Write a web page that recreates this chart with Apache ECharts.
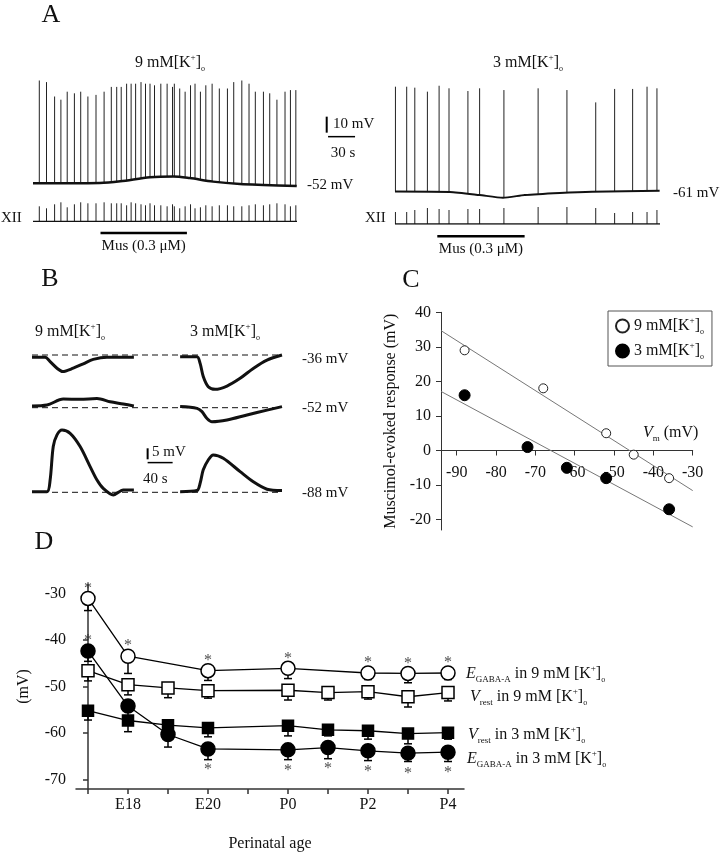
<!DOCTYPE html>
<html>
<head>
<meta charset="utf-8">
<script src="https://cdn.jsdelivr.net/npm/echarts@6/dist/echarts.min.js"></script>
<style>
  html, body { margin: 0; background: #fff; }
  #chart { width: 724px; height: 853px; }
</style>
</head>
<body>
<div id="chart"></div>
<script>
// ---- A: whole-cell recordings, 9 mM K+ (left) and 3 mM K+ (right)
// spike times (s), spike peak (mV), trace level under the spike (mV)
const a9SpikeT = [7, 15, 24, 31, 38, 46, 53, 61, 70, 79, 87, 93, 98, 104, 109, 114, 120, 125, 130, 135, 142,
  149, 155, 157, 163, 169, 175, 180, 186, 192, 199, 207, 216, 223, 232, 240, 247, 256, 263, 271, 280, 286, 292];
const a9SpikePeak = [13, 12, 3, 1, 6, 5, 6, 3, 4, 6, 9, 9, 9, 11, 11, 11, 12, 11, 11, 10, 11,
  11, 9, 11, 8, 6, 10, 11, 6, 10, 11, 8, 8, 12, 13, 11, 6, 6, 5, 1, 6, 7, 7];
const a9SpikeBase = [-51.2, -51.2, -51.1, -51.1, -51.1, -51.1, -51.1, -51, -51, -50.8, -50.4, -50.2, -50, -49.5, -49.1, -48.8, -48.3, -47.9, -47.5, -47.4, -47.3,
  -47.1, -47, -47.1, -47.4, -47.7, -48, -48.5, -49, -49.5, -50.1, -50.6, -51, -51.3, -51.7, -51.9, -52.1, -52.3, -52.4, -52.5, -52.7, -52.8, -53];
const a9BaseT = [0, 74, 97, 130, 156, 174, 200, 230, 256, 293];
const a9BaseV = [-51.2, -51, -50, -47.5, -47, -48, -50.2, -51.7, -52.3, -53];
const a9Xii = [15, 13, 17, 19, 14, 17, 19, 18, 18, 19, 18, 18, 18, 16, 19, 18, 17, 16, 18, 16, 16,
  15, 17, 15, 13, 15, 17, 13, 14, 16, 15, 16, 16, 15, 15, 16, 17, 16, 17, 18, 17, 15, 16];
const a9Mus = [75, 171];

const a3SpikeT = [0.5, 13, 22, 36, 49, 60, 81, 94, 121, 159, 191, 223, 244, 264, 280, 291];
const a3SpikePeak = [4.5, 4.5, 3.9, 1.4, 5.1, 3.5, 1.8, 3.5, 2.4, 3.5, 2.4, -5.3, 3.1, 3.1, 4.5, 3.5];
const a3SpikeBase = [-61, -61.1, -61.1, -61.2, -61.2, -61.3, -62.5, -63.2, -64.9, -62.7, -61.7, -61.1, -60.9, -60.8, -60.6, -60.5];
const a3BaseT = [0, 61, 94, 120, 144, 183, 219, 294];
const a3BaseV = [-61, -61.3, -63.2, -64.9, -63.2, -61.9, -61.1, -60.5];
const a3Xii = [12, 12, 14, 16, 15, 14, 15, 15, 16, 17, 17, 16, 11, 12, 12, 14];
const a3Mus = [47, 144];

// ---- B: muscimol responses at three holding potentials (time s, mV)
const bHold = [-36, -52, -88];
const b9T = [
  [0, 21, 29, 40, 49, 66, 82, 98, 120, 141, 163],
  [0, 24, 50, 77, 104, 125, 146, 163],
  [0, 24, 29, 34, 40, 48, 61, 77, 93, 104, 114, 130, 146, 163]
];
const b9V = [
  [-37, -37, -39, -42, -43.5, -42, -40, -38, -37, -37, -37],
  [-51.2, -50.8, -48.1, -48.2, -47.8, -49.3, -50.3, -51.2],
  [-87.7, -87.7, -82.4, -67.2, -61.9, -59.7, -61.2, -67.2, -76.3, -82.4, -86.2, -89.2, -86.9, -86.9]
];
const b3T = [
  [237, 264, 269, 274, 282, 293, 312, 333, 354, 376, 400],
  [237, 264, 272, 280, 288, 312, 344, 376, 400],
  [237, 264, 269, 274, 282, 290, 306, 333, 354, 376, 400]
];
const b3V = [
  [-36.8, -36.8, -39.8, -45.8, -50.4, -51.6, -50.1, -46.6, -42.1, -38.3, -36],
  [-51.5, -52.3, -53.8, -56.9, -58.4, -57.6, -55.3, -53.1, -51.5],
  [-87.7, -87.2, -83.9, -77.8, -73.3, -71, -72.5, -78.6, -83.2, -86.6, -87.2]
];

// ---- C: muscimol-evoked response vs membrane potential
const c9Vm = [-88, -68, -52, -45, -36];
const c9Resp = [29, 18, 5, -1.2, -8];
const c3Vm = [-88, -72, -62, -52, -36];
const c3Resp = [16, 1, -5, -8, -17];
const cFitVm = [-94, -30];
const c9Fit = [34.7, -11.6];
const c3Fit = [17.1, -22.1];
const cTicksX = [-90, -80, -70, -60, -50, -40, -30];
const cTicksY = [-20, -10, 0, 10, 20, 30, 40];

// ---- D: development of E_GABA-A and V_rest
const ages = ['E17', 'E18', 'E19', 'E20', 'E21', 'P0', 'P1', 'P2', 'P3', 'P4'];
const ageLabels = [1, 3, 5, 7, 9];
const egaba9X = [0, 1, 3, 5, 7, 8, 9];
const egaba9 = [-31.1, -43.5, -46.6, -46.1, -47.1, -47.2, -47.1];
const egaba9Sem = [2.6, 3.7, 2.1, 2.2, 1.4, 2.0, 1.4];
const allX = [0, 1, 2, 3, 5, 6, 7, 8, 9];
const vrest9 = [-46.6, -49.6, -50.3, -50.9, -50.8, -51.3, -51.1, -52.2, -51.3];
const vrest9Sem = [2.2, 2.2, 2.1, 1.6, 2.1, 1.6, 1.6, 2.2, 1.8];
const vrest3 = [-55.2, -57.3, -58.3, -58.9, -58.4, -59.3, -59.5, -60.1, -59.9];
const vrest3Sem = [2.0, 2.4, 0.8, 1.9, 2.2, 1.3, 1.8, 2.2, 1.4];
const egaba3 = [-42.4, -54.2, -60.3, -63.4, -63.6, -63.1, -63.8, -64.3, -64.1];
const egaba3Sem = [2.2, 2.1, 2.7, 2.3, 2.1, 2.4, 2.1, 1.8, 2.0];
const egaba3StarUp = [0];
const egaba3StarDown = [3, 4, 5, 6, 7, 8];
const dTicksY = [-70, -60, -50, -40, -30];

const serif = "'Liberation Serif', 'DejaVu Serif', serif";
const rich = {
  sup: { fontFamily: serif, fontSize: 9, lineHeight: 10, verticalAlign: 'top', fill: '#111', color: '#111' },
  sub: { fontFamily: serif, fontSize: 8, lineHeight: 8, verticalAlign: 'bottom', fill: '#111', color: '#111' },
  s: { fontFamily: serif, fontSize: 9, lineHeight: 8, verticalAlign: 'bottom', fill: '#111', color: '#111' },
  i: { fontFamily: serif, fontSize: 16, lineHeight: 20, fontStyle: 'italic', fill: '#111', color: '#111' }
};
const kLabel = (c) => c + ' mM[K{sup|+}]{sub|o}';

function zip(xs, ys) { return xs.map((x, i) => [x, ys[i]]); }

function txt(x, y, text, size, align) {
  return {
    type: 'text', x: x, y: y, z: 10,
    style: {
      text: text, fontFamily: serif, fontSize: size, lineHeight: 20, fill: '#111',
      align: align || 'left', verticalAlign: 'middle', rich: rich
    }
  };
}

function trace(gi, data, width, extra) {
  return Object.assign({
    type: 'line', xAxisIndex: gi, yAxisIndex: gi, data: data, showSymbol: false, silent: true,
    smooth: 0.3, lineStyle: { color: '#111', width: width }, z: 3
  }, extra || {});
}

function spikes(gi, t, peak, base) {
  return {
    type: 'custom', xAxisIndex: gi, yAxisIndex: gi, silent: true, clip: false, z: 2,
    data: t.map((v, i) => [v, peak[i], base ? base[i] : 0]),
    renderItem: function (p, api) {
      const a = api.coord([api.value(0), api.value(1)]);
      const b = api.coord([api.value(0), api.value(2)]);
      return { type: 'line', shape: { x1: a[0], y1: a[1], x2: b[0], y2: b[1] }, style: { stroke: '#222', lineWidth: 1 } };
    }
  };
}

// scale bars: each segment [x1, y1, x2, y2] in the grid's own units
function scaleBar(gi, segs, widths) {
  return {
    type: 'custom', xAxisIndex: gi, yAxisIndex: gi, silent: true, clip: false, z: 4,
    data: segs,
    renderItem: function (p, api) {
      const a = api.coord([api.value(0), api.value(1)]);
      const b = api.coord([api.value(2), api.value(3)]);
      return { type: 'line', shape: { x1: a[0], y1: a[1], x2: b[0], y2: b[1] }, style: { stroke: '#000', lineWidth: widths[p.dataIndex] } };
    }
  };
}

function mus(gi, span, drop) {
  return {
    type: 'custom', xAxisIndex: gi, yAxisIndex: gi, silent: true, clip: false,
    data: [span],
    renderItem: function (p, api) {
      const a = api.coord([api.value(0), 0]);
      const b = api.coord([api.value(1), 0]);
      return {
        type: 'group', children: [
          { type: 'rect', shape: { x: a[0], y: a[1] + drop, width: b[0] - a[0], height: 2.5 }, style: { fill: '#000' } },
          { type: 'text', x: (a[0] + b[0]) / 2, y: a[1] + drop + 14,
            style: { text: 'Mus (0.3 μM)', fontFamily: serif, fontSize: 15, fill: '#111', align: 'center', verticalAlign: 'middle' } }
        ]
      };
    }
  };
}

function errBars(x, mean, sem) {
  return {
    type: 'custom', xAxisIndex: 8, yAxisIndex: 8, silent: true, z: 2,
    data: x.map((v, i) => [v, mean[i], mean[i] - sem[i]]),
    renderItem: function (p, api) {
      const a = api.coord([api.value(0), api.value(1)]);
      const b = api.coord([api.value(0), api.value(2)]);
      return {
        type: 'group', children: [
          { type: 'line', shape: { x1: a[0], y1: a[1], x2: b[0], y2: b[1] }, style: { stroke: '#000', lineWidth: 1.5 } },
          { type: 'line', shape: { x1: b[0] - 4, y1: b[1], x2: b[0] + 4, y2: b[1] }, style: { stroke: '#000', lineWidth: 1.5 } }
        ]
      };
    }
  };
}

function dLine(x, y, symbol, size, fill) {
  return {
    type: 'line', xAxisIndex: 8, yAxisIndex: 8, data: zip(x, y), symbol: symbol, symbolSize: size,
    silent: true, z: 3,
    lineStyle: { color: '#000', width: 1.3 },
    itemStyle: { color: fill, borderColor: '#000', borderWidth: 1.5, opacity: 1 }
  };
}

function stars(points, dy) {
  return {
    type: 'scatter', xAxisIndex: 8, yAxisIndex: 8, data: points, symbolSize: 0, silent: true, z: 4,
    label: { show: true, formatter: '*', position: 'inside', offset: [0, dy], fontFamily: serif, fontSize: 16, color: '#222' }
  };
}

const hidden = { show: false };
const grids = [
  { left: 33, top: 75.7, width: 264, height: 118.4 },   // A 9 mM
  { left: 33, top: 201.3, width: 264, height: 20 },     // A 9 mM XII
  { left: 395, top: 82.7, width: 265, height: 118.4 },  // A 3 mM
  { left: 395, top: 204, width: 265, height: 20 },      // A 3 mM XII
  { left: 32, top: 341.8, width: 250, height: 52.8 },   // B -36
  { left: 32, top: 394.5, width: 250, height: 30.8 },   // B -52
  { left: 32, top: 421.9, width: 250, height: 79.2 },   // B -88
  { left: 441, top: 312.3, width: 251.7, height: 217.7 }, // C
  { left: 76, top: 584, width: 388, height: 206 }       // D
];
const xRanges = [[0, 293.3], [0, 293.3], [0, 294.4], [0, 294.4], [0, 400], [0, 400], [0, 400]];
const yRanges = [[-58, 16], [0, 20], [-67, 7], [0, 20], [-54, -30], [-60, -46], [-92, -56]];

const xAxes = xRanges.map((r, i) => ({ type: 'value', gridIndex: i, min: r[0], max: r[1], show: false }));
const yAxes = yRanges.map((r, i) => ({ type: 'value', gridIndex: i, min: r[0], max: r[1], show: false }));

const axisText = { fontFamily: serif, fontSize: 16, color: '#111' };
// C: x axis drawn through y = 0 (offset up from the grid bottom)
xAxes.push({
  type: 'value', gridIndex: 7, min: -94, max: -30, position: 'bottom', offset: -79.5,
  axisLine: { onZero: false, lineStyle: { color: '#333', width: 1 } },
  axisTick: { customValues: cTicksX, length: 5, lineStyle: { color: '#333' } },
  axisLabel: Object.assign({ customValues: cTicksX, margin: 14 }, axisText),
  splitLine: hidden
});
yAxes.push({
  type: 'value', gridIndex: 7, min: -23, max: 40,
  axisLine: { show: true, lineStyle: { color: '#333', width: 1 } },
  axisTick: { show: true, customValues: cTicksY, length: 5, lineStyle: { color: '#333' } },
  axisLabel: Object.assign({ customValues: cTicksY, margin: 10 }, axisText),
  splitLine: hidden,
  name: 'Muscimol-evoked response (mV)', nameLocation: 'middle', nameRotate: 90, nameGap: 42,
  nameTextStyle: { fontFamily: serif, fontSize: 16, color: '#111' }
});
xAxes.push({
  type: 'value', gridIndex: 8, min: -0.3, max: 9.4,
  axisLine: { onZero: false, lineStyle: { color: '#333', width: 1.5 } },
  axisTick: { customValues: [0, 1, 2, 3, 4, 5, 6, 7, 8, 9], length: 5, lineStyle: { color: '#333', width: 1.5 } },
  axisLabel: Object.assign({ customValues: ageLabels, margin: 8, formatter: (v) => ages[v] }, axisText),
  splitLine: hidden,
  name: 'Perinatal age', nameLocation: 'middle', nameGap: 47,
  nameTextStyle: { fontFamily: serif, fontSize: 16, color: '#111' }
});
yAxes.push({
  type: 'value', gridIndex: 8, min: -72, max: -28,
  axisLine: { show: true, lineStyle: { color: '#333', width: 1.5 } },
  axisTick: { show: true, customValues: dTicksY, length: 5, lineStyle: { color: '#333', width: 1.5 } },
  axisLabel: Object.assign({ customValues: dTicksY, margin: 10 }, axisText),
  splitLine: hidden,
  name: '(mV)', nameLocation: 'middle', nameRotate: 90, nameGap: 44,
  nameTextStyle: { fontFamily: serif, fontSize: 16, color: '#111' }
});

const series = [
  // A
  trace(0, zip(a9BaseT, a9BaseV), 2.5),
  spikes(0, a9SpikeT, a9SpikePeak, a9SpikeBase),
  trace(1, [[0, 0], [293.3, 0]], 1.3, { smooth: false }),
  spikes(1, a9SpikeT, a9Xii, null),
  mus(1, a9Mus, 10.4),
  trace(2, zip(a3BaseT, a3BaseV), 2, { smooth: 0.2 }),
  spikes(2, a3SpikeT, a3SpikePeak, a3SpikeBase),
  trace(3, [[0, 0], [294.4, 0]], 1.3, { smooth: false }),
  spikes(3, a3SpikeT, a3Xii, null),
  mus(3, a3Mus, 11),
  // scale bar A: 10 mV / 30 s
  scaleBar(0, [[326.3, -9.6, 326.3, -19.6], [327.8, -22.1, 357.8, -22.1]], [2, 1.5]),
  // scale bar B: 5 mV / 40 s
  scaleBar(6, [[185, -68, 185, -73], [185, -74.5, 225, -74.5]], [2, 1.5])
];
bHold.forEach((h, r) => {
  series.push(trace(4 + r, [[0, h], [400, h]], 1, { smooth: false, z: 2, lineStyle: { color: '#111', width: 1, type: [6, 4] } }));
  series.push(trace(4 + r, zip(b9T[r], b9V[r]), 3));
  series.push(trace(4 + r, zip(b3T[r], b3V[r]), 3));
});
// C
series.push(
  trace(7, zip(cFitVm, c9Fit), 1, { smooth: false, z: 1, lineStyle: { color: '#777', width: 1 } }),
  trace(7, zip(cFitVm, c3Fit), 1, { smooth: false, z: 1, lineStyle: { color: '#777', width: 1 } }),
  { name: '9 mM', type: 'scatter', xAxisIndex: 7, yAxisIndex: 7, data: zip(c9Vm, c9Resp), symbolSize: 9, z: 3,
    itemStyle: { color: '#fff', borderColor: '#222', borderWidth: 1, opacity: 1 } },
  { name: '3 mM', type: 'scatter', xAxisIndex: 7, yAxisIndex: 7, data: zip(c3Vm, c3Resp), symbolSize: 11, z: 3,
    itemStyle: { color: '#000', borderColor: '#000', borderWidth: 1, opacity: 1 } }
);
// D
series.push(
  errBars(egaba9X, egaba9, egaba9Sem),
  errBars(allX, vrest9, vrest9Sem),
  errBars(allX, vrest3, vrest3Sem),
  errBars(allX, egaba3, egaba3Sem),
  dLine(egaba9X, egaba9, 'circle', 14, '#fff'),
  dLine(allX, vrest9, 'rect', 12, '#fff'),
  dLine(allX, vrest3, 'rect', 11, '#000'),
  dLine(allX, egaba3, 'circle', 14, '#000'),
  stars(zip(egaba9X, egaba9), -10),
  stars(egaba3StarUp.map(i => [allX[i], egaba3[i]]), -10),
  stars(egaba3StarDown.map(i => [allX[i], egaba3[i]]), 21)
);

const graphic = [
  txt(51, 15, 'A', 26, 'center'),
  txt(170, 63, kLabel(9), 16, 'center'),
  txt(528, 63, kLabel(3), 16, 'center'),
  txt(307, 185, '-52 mV', 15),
  txt(673, 193, '-61 mV', 15),
  txt(1, 218, 'XII', 15),
  txt(365, 218, 'XII', 15),
  txt(333, 124, '10 mV', 15),
  txt(343, 153, '30 s', 15, 'center'),
  txt(50, 279, 'B', 26, 'center'),
  txt(35, 332, kLabel(9), 16),
  txt(190, 332, kLabel(3), 16),
  txt(302, 359, '-36 mV', 15),
  txt(302, 408, '-52 mV', 15),
  txt(302, 493, '-88 mV', 15),
  txt(152, 452, '5 mV', 15),
  txt(143, 479, '40 s', 15),
  txt(411, 280, 'C', 26, 'center'),
  txt(643, 433, '{i|V}{s|m} (mV)', 16),
  txt(44, 542, 'D', 26, 'center'),
  txt(466, 674, '{i|E}{s|GABA-A} in 9 mM [K{sup|+}]{sub|o}', 16),
  txt(470, 697, '{i|V}{s|rest} in 9 mM [K{sup|+}]{sub|o}', 16),
  txt(468, 735, '{i|V}{s|rest} in 3 mM [K{sup|+}]{sub|o}', 16),
  txt(467, 759, '{i|E}{s|GABA-A} in 3 mM [K{sup|+}]{sub|o}', 16)
];

const chart = echarts.init(document.getElementById('chart'));
chart.setOption({
  backgroundColor: '#fff',
  animation: false,
  grid: grids,
  xAxis: xAxes,
  yAxis: yAxes,
  legend: {
    data: ['9 mM', '3 mM'], orient: 'vertical', left: 608, top: 311,
    borderColor: '#555', borderWidth: 1, padding: [5, 8, 5, 7], itemGap: 5,
    itemWidth: 13, itemHeight: 13,
    formatter: (n) => kLabel(n === '9 mM' ? 9 : 3),
    textStyle: { fontFamily: serif, fontSize: 16, lineHeight: 20, color: '#111', rich: rich }
  },
  graphic: graphic,
  series: series
});
</script>
</body>
</html>
